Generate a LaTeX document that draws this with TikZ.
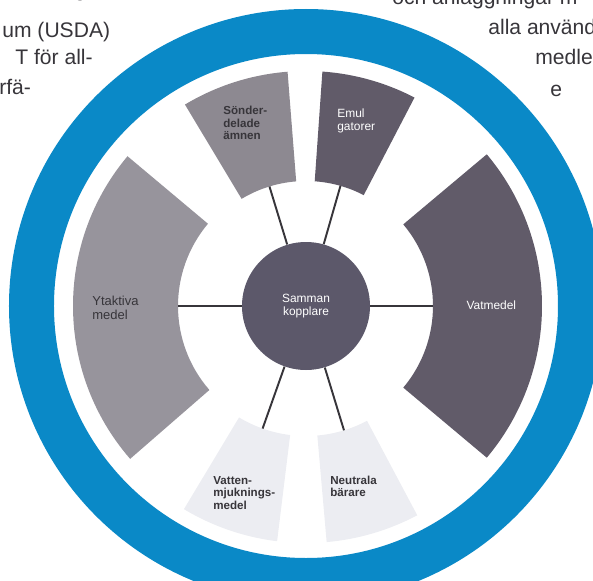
\documentclass[tikz,border=0pt]{standalone}
\usepackage{fontspec}
\setmainfont{Liberation Sans}
\usetikzlibrary{calc}
\definecolor{ringblue}{RGB}{10,137,199}
\definecolor{cardlight}{RGB}{236,237,242}
\definecolor{cardmid}{RGB}{151,148,156}
\definecolor{cardgrey}{RGB}{141,137,145}
\definecolor{carddark}{RGB}{97,91,105}
\definecolor{hubgrey}{RGB}{92,88,106}
\definecolor{inkgrey}{RGB}{55,53,58}
\newcommand{\ringpart}[5]{\fill[#1] (#2:#4) arc (#2:#3:#4) -- (#3:#5) arc (#3:#2:#5) -- cycle;}

\begin{document}
\begin{tikzpicture}[spoke/.style={draw=inkgrey,line width=1.1pt},
      hub/.style={circle,fill=hubgrey,minimum size=2.56cm,inner sep=0pt,
      text=white,align=center,font=\fontsize{6.8}{7.6}\selectfont},
      lbl/.style={anchor=west,align=left,inner sep=0pt,
      font=\fontsize{6.8}{7.4}\selectfont},
      page/.style={anchor=base west,inner sep=0pt,text=inkgrey,
      font=\fontsize{12}{14}\selectfont}]
      \useasboundingbox (-6.12,-5.48) rectangle (5.74,6.12);
      \clip (-6.12,-5.48) rectangle (5.74,6.12);

      \fill[ringblue,even odd rule] (0,0) circle (5.94) (0,0) circle (5.04);

      \ringpart{cardmid}{140}{221}{2.56}{4.66}
      \ringpart{carddark}{-40}{40}{2.54}{4.72}
      \ringpart{cardgrey}{94.5}{121}{2.5}{4.7}
      \ringpart{carddark}{62.5}{86}{2.5}{4.7}
      \ringpart{cardlight}{239}{263}{2.6}{4.74}
      \ringpart{cardlight}{275}{298}{2.6}{4.74}

      \node[hub] (hub) at (0,0) { Samman\\kopplare };
      \coordinate (ytak) at (180:2.56);
      \coordinate (vat) at (0:2.54);
      \coordinate (sond) at (107:2.5);
      \coordinate (emul) at (74:2.5);
      \coordinate (vatten) at (250.5:2.6);
      \coordinate (neutr) at (287:2.6);

      \path[spoke]
      (hub) edge (ytak)
      (hub) edge (vat)
      (hub) edge (sond)
      (hub) edge (emul)
      (hub) edge (vatten)
      (hub) edge (neutr)
      ;

      \node[lbl,text=inkgrey,font=\fontsize{7.4}{8}\selectfont] (ytaktxt) at (-4.28,-0.04) { Ytaktiva\\medel };
      \node[lbl,text=white,anchor=center] (vattxt) at (3.74,0.02) { Vatmedel };
      \node[lbl,text=inkgrey,font=\bfseries\fontsize{6.6}{7.2}\selectfont] (sondtxt) at (-1.66,3.66) { Sönder-\\delade\\ämnen };
      \node[lbl,text=white] (emultxt) at (0.62,3.7) { Emul\\gatorer };
      \node[lbl,text=inkgrey,font=\bfseries\fontsize{6.6}{7.2}\selectfont] (vattentxt) at (-1.86,-3.74) { Vatten-\\mjuknings-\\medel };
      \node[lbl,text=inkgrey,font=\bfseries\fontsize{6.6}{7.2}\selectfont] (neutrtxt) at (0.48,-3.61) { Neutrala\\bärare };

      \node[page] (p0) at (-4.64,6.18) { g };
      \node[page] (p1) at (-6.08,5.36) { um (USDA) };
      \node[page] (p2) at (-5.82,4.82) { T för all- };
      \node[page] (p3) at (-6.14,4.22) { rfä- };
      \node[page] (q0) at (1.72,6.02) { och anläggningar m };
      \node[page] (q1) at (3.64,5.42) { alla använd };
      \node[page] (q2) at (4.58,4.82) { medle };
      \node[page] (q3) at (4.88,4.2) { e };
\end{tikzpicture}
\end{document}
